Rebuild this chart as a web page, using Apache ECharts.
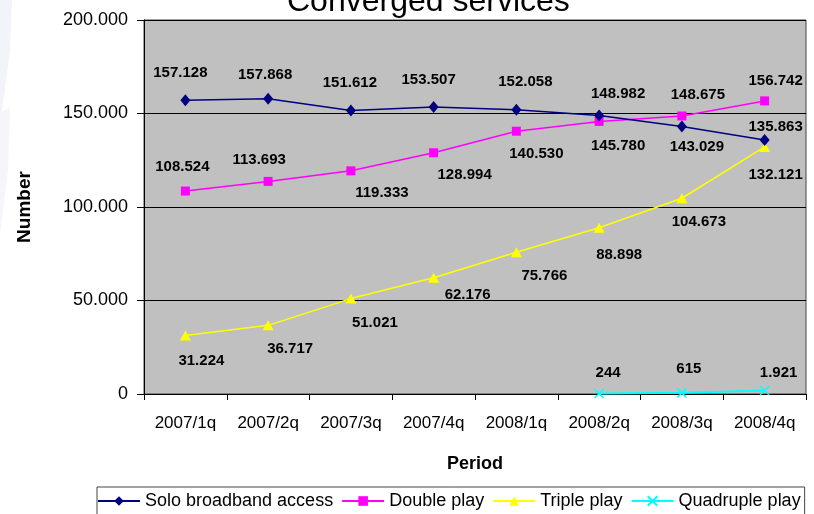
<!DOCTYPE html>
<html>
<head>
<meta charset="utf-8">
<script src="https://cdn.jsdelivr.net/npm/echarts@6/dist/echarts.min.js"></script>
<style>
html,body{margin:0;padding:0;background:#fff;}
#chart{width:814px;height:514px;}
</style>
</head>
<body>
<div id="chart"></div>
<script>
// ---- data ----
const categories = ['2007/1q', '2007/2q', '2007/3q', '2007/4q', '2008/1q', '2008/2q', '2008/3q', '2008/4q'];
const soloBroadband = [157128, 157868, 151612, 153507, 152058, 148982, 143029, 135863];
const doublePlay = [108524, 113693, 119333, 128994, 140530, 145780, 148675, 156742];
const triplePlay = [31224, 36717, 51021, 62176, 75766, 88898, 104673, 132121];
const quadruplePlay = [null, null, null, null, null, 244, 615, 1921];
const yTicks = [0, 50000, 100000, 150000, 200000];

// ---- label placement (style config, separate from data) ----
const soloLabelOffsets = [[-5,-27],[-3,-24],[-1,-28],[-5,-27],[9,-28],[19,-22],[15,20],[11,-13]];
const doubleLabelOffsets = [[-3,-24],[-9,-22],[31,22],[31,22],[20,23],[19,24],[16,-21],[11,-20]];
const tripleLabelOffsets = [[16,25],[22,24],[24,24],[34,17],[28,24],[20,27],[17,24],[11,28]];
const quadLabelOffsets = [null,null,null,null,null,[9,-21],[7,-24],[14,-18]];

const FONT = '"Liberation Sans", Arial, Helvetica, sans-serif';

function fmt(v) {
  if (v === null || v === undefined) return '';
  return String(Math.round(v)).replace(/\B(?=(\d{3})+(?!\d))/g, '.');
}
function items(values, offsets) {
  return values.map(function (v, i) {
    if (v === null) return null;
    return { value: v, label: { offset: offsets[i] || [0, 0] } };
  });
}
const labelBase = {
  show: true, position: 'inside', color: '#000', fontFamily: FONT,
  fontWeight: 'bold', fontSize: 15, align: 'center', verticalAlign: 'middle',
  formatter: function (p) { return fmt(p.value); }
};

const chart = echarts.init(document.getElementById('chart'), null, { renderer: 'canvas' });
chart.setOption({
  animation: false,
  backgroundColor: '#fff',
  graphic: [
    { type: 'polygon', silent: true, z: -10, shape: { points: [[0,0],[12,0],[10,50],[0,125]] }, style: { fill: '#f3f3fa' } },
    { type: 'polygon', silent: true, z: -10, shape: { points: [[0,112],[10,108],[8,170],[0,235]] }, style: { fill: '#f5f5fb' } }
  ],
  title: {
    text: 'Converged services', left: 287, top: -14, padding: 0,
    textStyle: { fontFamily: FONT, fontSize: 32, fontWeight: 'normal', color: '#000' }
  },
  grid: {
    left: 144, right: 8, top: 20, bottom: 120, show: true,
    backgroundColor: '#c0c0c0', borderColor: '#444', borderWidth: 1
  },
  legend: {
    left: 97, top: 487, orient: 'horizontal',
    padding: [5, 4, 6, 0], itemGap: 8, itemWidth: 42, itemHeight: 12,
    borderColor: '#444', borderWidth: 1,
    textStyle: { fontFamily: FONT, fontSize: 18, color: '#000' },
    data: ['Solo broadband access', 'Double play', 'Triple play', 'Quadruple play']
  },
  xAxis: {
    type: 'category', data: categories, boundaryGap: true,
    name: 'Period', nameLocation: 'middle', nameGap: 61,
    nameTextStyle: { fontFamily: FONT, fontSize: 18, fontWeight: 'bold', color: '#000' },
    axisLine: { show: true, lineStyle: { color: '#000', width: 1 } },
    axisTick: { show: true, length: 6, lineStyle: { color: '#000' } },
    axisLabel: { fontFamily: FONT, fontSize: 17, color: '#000', margin: 21, interval: 0 },
    splitLine: { show: false }
  },
  yAxis: {
    type: 'value', min: 0, max: 200000, interval: 50000,
    name: 'Number', nameLocation: 'middle', nameGap: 110,
    nameTextStyle: { fontFamily: FONT, fontSize: 19, fontWeight: 'bold', color: '#000' },
    axisLine: { show: true, lineStyle: { color: '#000', width: 1 } },
    axisTick: { show: true, length: 7, lineStyle: { color: '#000' } },
    axisLabel: {
      fontFamily: FONT, fontSize: 18, color: '#000', margin: 16,
      formatter: function (v) { return yTicks.indexOf(v) >= 0 ? fmt(v) : ''; }
    },
    splitLine: { show: true, lineStyle: { color: '#000', width: 1 } }
  },
  series: [
    {
      name: 'Solo broadband access', type: 'line', data: items(soloBroadband, soloLabelOffsets),
      symbol: 'diamond', symbolSize: [10, 12],
      itemStyle: { color: '#000080' }, lineStyle: { color: '#000080', width: 1.5 },
      label: labelBase, z: 4
    },
    {
      name: 'Double play', type: 'line', data: items(doublePlay, doubleLabelOffsets),
      symbol: 'rect', symbolSize: 9,
      itemStyle: { color: '#ff00ff' }, lineStyle: { color: '#ff00ff', width: 1.5 },
      label: labelBase, z: 3
    },
    {
      name: 'Triple play', type: 'line', data: items(triplePlay, tripleLabelOffsets),
      symbol: 'triangle', symbolSize: [11, 10],
      itemStyle: { color: '#ffff00' }, lineStyle: { color: '#ffff00', width: 1.5 },
      label: labelBase, z: 2
    },
    {
      name: 'Quadruple play', type: 'line', data: items(quadruplePlay, quadLabelOffsets),
      symbol: 'path://M0,0L10,10M10,0L0,10', symbolSize: 9,
      itemStyle: { color: '#00ffff', borderColor: '#00ffff', borderWidth: 1.5 },
      lineStyle: { color: '#00ffff', width: 2 },
      label: labelBase, z: 2
    }
  ]
});
</script>
</body>
</html>
